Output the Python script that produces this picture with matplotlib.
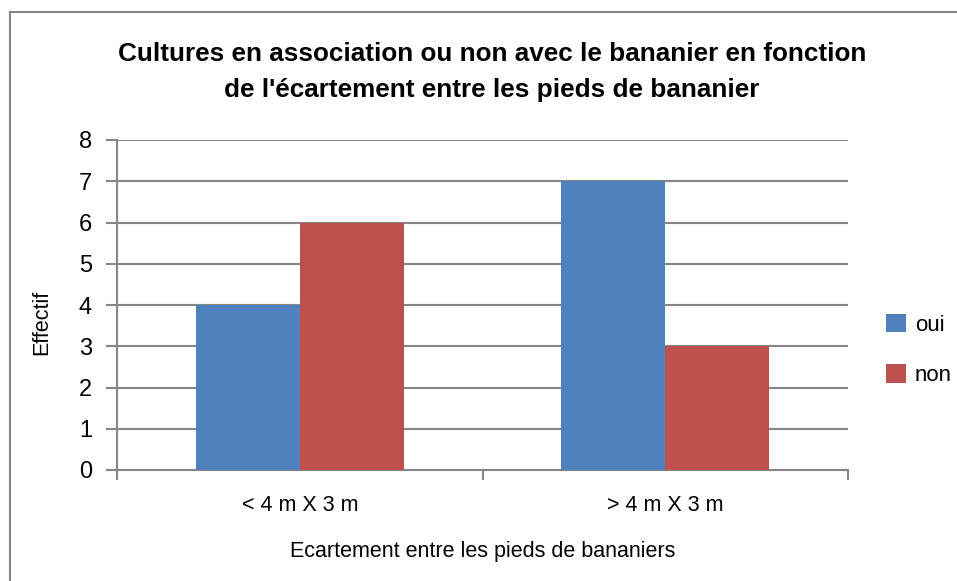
import matplotlib
matplotlib.use("Agg")
import matplotlib.pyplot as plt
from matplotlib.lines import Line2D
import numpy as np

categories = ["< 4 m X 3 m", "> 4 m X 3 m"]
oui = [4, 7]
non = [6, 3]
series_names = ["oui", "non"]
yticks = [0, 1, 2, 3, 4, 5, 6, 7, 8]

plt.rcParams['font.family'] = ['Liberation Sans', 'DejaVu Sans']

fig = plt.figure(figsize=(9.57, 5.81), dpi=100)
ax = fig.add_axes([117/957, 1 - 470/581, (848 - 117)/957, (470 - 140)/581])

x = np.arange(len(categories))
w = 0.285
ax.bar(x - w/2, oui, w, color="#4F81BD", label=series_names[0], zorder=3)
ax.bar(x + w/2, non, w, color="#C0504D", label=series_names[1], zorder=3)

ax.set_xlim(-0.5, len(categories) - 0.5)
ax.set_ylim(0, 8)
ax.set_yticks(yticks)
ax.yaxis.grid(True, color="#868686", linewidth=1.5, zorder=0)
ax.set_axisbelow(True)

for s in ["top", "right"]:
    ax.spines[s].set_visible(False)
for s in ["left", "bottom"]:
    ax.spines[s].set_color("#868686")
    ax.spines[s].set_linewidth(1.5)

ax.set_xticks(x)
ax.set_xticklabels(categories)
ax.set_xticks(np.arange(-0.5, len(categories)), minor=True)
ax.tick_params(axis="x", which="major", length=0, pad=18, labelsize=15.5)
ax.tick_params(axis="x", which="minor", length=7, width=1.5, color="#868686", direction="out")
ax.tick_params(axis="y", length=8, width=1.5, color="#868686", labelsize=17, pad=10)

fig.text(483/957, 1 - 551/581, "Ecartement entre les pieds de bananiers",
         ha="center", va="center", fontsize=15.5)
fig.text(42/957, 1 - 322/581, "Effectif", rotation=90,
         ha="center", va="center", fontsize=15.5)
fig.text(492/957, 1 - 72/581,
         "Cultures en association ou non avec le bananier en fonction\nde l'écartement entre les pieds de bananier",
         ha="center", va="center", fontsize=18.8, fontweight="bold", linespacing=1.6)

ax.legend(loc="center left", bbox_to_anchor=(886/957, 1 - 350/581),
          bbox_transform=fig.transFigure, frameon=False, fontsize=16,
          borderpad=0, borderaxespad=0,
          handlelength=0.9, handleheight=0.9, handletextpad=0.4, labelspacing=1.3)

fig.add_artist(Line2D([10/957, 10/957], [0, 1 - 12/581], transform=fig.transFigure,
                      color="#868686", linewidth=1.5))
fig.add_artist(Line2D([10/957, 1], [1 - 12/581, 1 - 12/581], transform=fig.transFigure,
                      color="#868686", linewidth=1.5))

fig.savefig("out.png", dpi=100)
